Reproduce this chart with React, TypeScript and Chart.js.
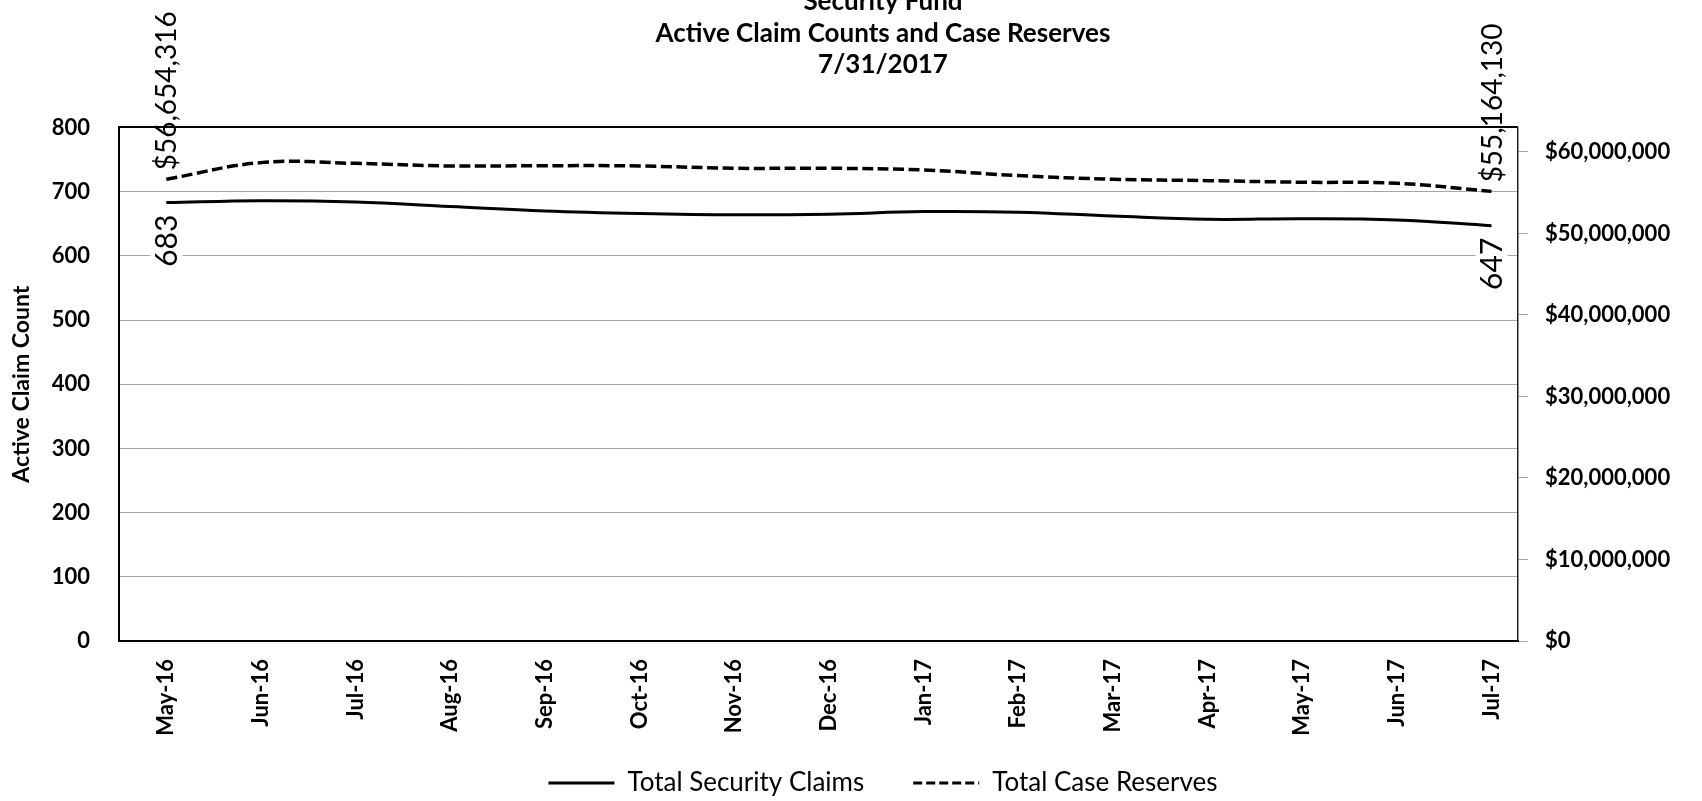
import React, { useEffect, useRef } from 'react';
import { Chart, registerables } from 'chart.js';

Chart.register(...registerables);

const months = ['May-16', 'Jun-16', 'Jul-16', 'Aug-16', 'Sep-16', 'Oct-16', 'Nov-16', 'Dec-16', 'Jan-17', 'Feb-17', 'Mar-17', 'Apr-17', 'May-17', 'Jun-17', 'Jul-17'];
const claimCounts = [683, 686, 684, 677, 670, 666, 664, 665, 669, 668, 662, 657, 658, 656, 647];
const caseReserves = [56654316, 58690000, 58600000, 58280000, 58320000, 58280000, 58000000, 58000000, 57790000, 57100000, 56650000, 56480000, 56280000, 56160000, 55164130];
const seriesNames = ['Total Security Claims', 'Total Case Reserves'];
const titleLines = ['Security Fund', 'Active Claim Counts and Case Reserves', '7/31/2017'];
const leftAxisTitle = 'Active Claim Count';
const countAxis = { min: 0, max: 800, step: 100 };
const reserveAxis = { min: 0, max: 63000000 };
const reserveTicks = [0, 10000000, 20000000, 30000000, 40000000, 50000000, 60000000];
const monthAxis = { min: -0.5, max: 14.28 };

const FONT = 'Lato';
const W = 1702;
const H = 801;
const PLOT = { left: 119, top: 127.5, right: 1518, bottom: 641 };
const TITLE_SHIFT = 32;
const LEGEND_DY = 5;

const money = (v: number) => '$' + Math.round(v).toLocaleString('en-US');
const toPoints = (arr: number[]) => arr.map((v, i) => ({ x: i, y: v }));

const endLabelsPlugin = {
  id: 'endLabels',
  afterDatasetsDraw(chart: any) {
    const ctx = chart.ctx as CanvasRenderingContext2D;
    chart.data.datasets.forEach((ds: any, di: number) => {
      const meta = chart.getDatasetMeta(di);
      const idxs = [0, ds.data.length - 1];
      idxs.forEach((i) => {
        const el = meta.data[i];
        const v = ds.data[i].y as number;
        const text = di === 0 ? String(v) : money(v);
        ctx.save();
        ctx.font = di === 0 ? `30px ${FONT}` : `28px ${FONT}`;
        ctx.fillStyle = '#000';
        ctx.textBaseline = 'middle';
        const w = ctx.measureText(text).width;
        ctx.translate(el.x, el.y);
        ctx.rotate(-Math.PI / 2);
        if (di === 1) {
          ctx.textAlign = 'left';
          ctx.fillText(text, 9, 1);
        } else {
          const gap = 12;
          ctx.fillStyle = '#fff';
          ctx.fillRect(-gap - w - 5, -16, w + 10, 32);
          ctx.fillStyle = '#000';
          ctx.textAlign = 'right';
          ctx.fillText(text, -gap, 1);
        }
        ctx.restore();
      });
    });
  },
};

const layoutTweakPlugin = {
  id: 'layoutTweak',
  afterLayout(chart: any) {
    [chart.titleBlock, chart.legend].forEach((b: any) => {
      if (b) {
        b.left += TITLE_SHIFT;
        b.right += TITLE_SHIFT;
      }
    });
    if (chart.legend) {
      chart.legend.top += LEGEND_DY;
      chart.legend.bottom += LEGEND_DY;
    }
    // let the rotated month labels draw below the axis box (no clipping)
    if (chart.scales.x) chart.scales.x.bottom = chart.height;
  },
};

export default function App() {
  const ref = useRef<HTMLCanvasElement | null>(null);

  useEffect(() => {
    if (!ref.current) return;
    Chart.defaults.color = '#000';
    Chart.defaults.font.family = FONT;

    const chart = new Chart(ref.current, {
      type: 'line',
      data: {
        datasets: [
          {
            label: seriesNames[0],
            data: toPoints(claimCounts),
            yAxisID: 'y',
            borderColor: '#000',
            backgroundColor: '#000',
            borderWidth: 3,
            pointRadius: 0,
            tension: 0.4,
            fill: false,
          },
          {
            label: seriesNames[1],
            data: toPoints(caseReserves),
            yAxisID: 'y1',
            borderColor: '#000',
            backgroundColor: '#000',
            borderWidth: 3.5,
            borderDash: [11, 4.5],
            pointRadius: 0,
            tension: 0.4,
            fill: false,
          },
        ],
      },
      options: {
        animation: false,
        responsive: true,
        maintainAspectRatio: false,
        devicePixelRatio: 1,
        layout: { padding: 0 },
        plugins: {
          title: {
            display: true,
            text: titleLines,
            color: '#000',
            font: { family: FONT, size: 26, weight: 'bold', lineHeight: 31.5 / 26 },
            padding: { top: -14, bottom: 47 },
          },
          legend: {
            display: true,
            position: 'bottom',
            labels: {
              color: '#000',
              font: { family: FONT, size: 26 },
              usePointStyle: true,
              pointStyleWidth: 66,
              padding: 49,
              generateLabels: (c: any) =>
                c.data.datasets.map((ds: any, i: number) => ({
                  text: ds.label,
                  fillStyle: '#000',
                  strokeStyle: '#000',
                  lineWidth: 3,
                  lineDash: i === 1 ? [9, 4] : [],
                  pointStyle: 'line',
                  hidden: false,
                  datasetIndex: i,
                  fontColor: '#000',
                })),
            },
          },
          tooltip: { enabled: false },
        },
        scales: {
          x: {
            type: 'linear',
            min: monthAxis.min,
            max: monthAxis.max,
            afterBuildTicks: (s: any) => {
              s.ticks = months.map((_, i) => ({ value: i }));
            },
            grid: { display: true, drawOnChartArea: false, drawTicks: false },
            border: { display: true, color: '#000', width: 2 },
            ticks: {
              minRotation: 90,
              maxRotation: 90,
              autoSkip: false,
              padding: 18,
              color: '#000',
              font: { family: FONT, size: 22, weight: 'bold' },
              callback: (v: any) => months[Math.round(Number(v))] ?? '',
            },
            afterFit: (s: any) => {
              s.height = H - PLOT.bottom - (s.chart.legend ? s.chart.legend.height : 0);
            },
          },
          y: {
            type: 'linear',
            position: 'left',
            min: countAxis.min,
            max: countAxis.max,
            ticks: {
              stepSize: countAxis.step,
              padding: 29,
              color: '#000',
              font: { family: FONT, size: 22, weight: 'bold' },
            },
            grid: {
              drawTicks: false,
              color: (c: any) => (c.tick && c.tick.value === countAxis.max ? '#000' : '#a6a6a6'),
              lineWidth: (c: any) => (c.tick && c.tick.value === countAxis.max ? 2 : 1),
            },
            border: { display: true, color: '#000', width: 2 },
            title: {
              display: true,
              text: leftAxisTitle,
              color: '#000',
              font: { family: FONT, size: 23, weight: 'bold' },
              padding: { top: 8, bottom: 0 },
            },
            afterFit: (s: any) => {
              s.width = PLOT.left;
            },
          },
          y1: {
            type: 'linear',
            position: 'right',
            min: reserveAxis.min,
            max: reserveAxis.max,
            afterBuildTicks: (s: any) => {
              s.ticks = reserveTicks.map((v) => ({ value: v }));
            },
            ticks: {
              padding: 17,
              color: '#000',
              font: { family: FONT, size: 22, weight: 'bold' },
              callback: (v: any) => money(Number(v)),
            },
            grid: {
              drawOnChartArea: false,
              drawTicks: true,
              tickLength: 10,
              color: '#a6a6a6',
              lineWidth: 1,
            },
            border: { display: true, color: '#222', width: 1.5 },
            afterFit: (s: any) => {
              s.width = W - PLOT.right;
            },
          },
        },
      },
      plugins: [endLabelsPlugin, layoutTweakPlugin],
    } as any);

    return () => chart.destroy();
  }, []);

  return (
    <div style={{ position: 'fixed', left: 0, top: 0, width: W, height: H, background: '#fff' }}>
      <canvas ref={ref} />
    </div>
  );
}
